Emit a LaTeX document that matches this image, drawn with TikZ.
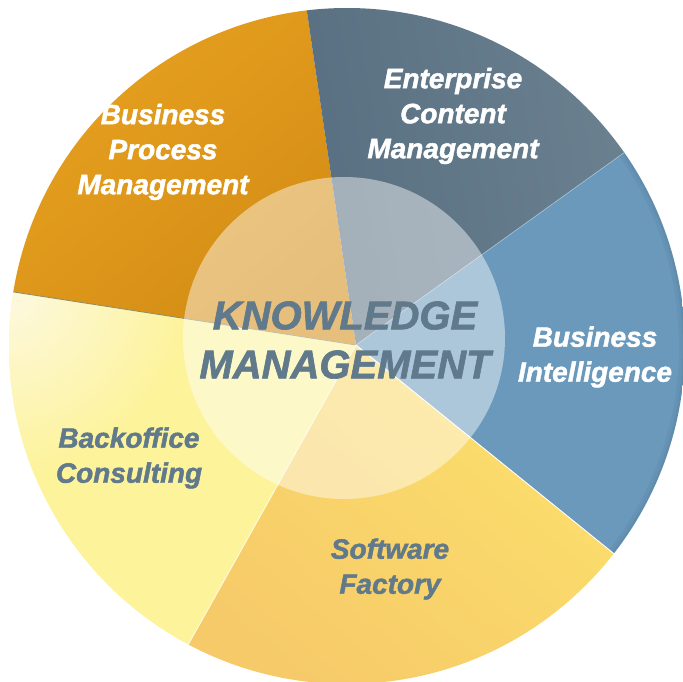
\documentclass[tikz,border=0pt]{standalone}
\usepackage{fontspec}
\setmainfont{Liberation Sans}[BoldItalicFeatures={FakeBold=1.6}]
\usetikzlibrary{calc}
\definecolor{bpmorange}{RGB}{233,163,33}
\definecolor{bpmorangedk}{RGB}{211,140,20}
\definecolor{ecmslate}{RGB}{88,111,129}
\definecolor{ecmslatelt}{RGB}{108,130,145}
\definecolor{biblue}{RGB}{106,153,188}
\definecolor{swyellow}{RGB}{246,201,105}
\definecolor{swyellowlt}{RGB}{252,225,108}
\definecolor{boyellow}{RGB}{253,243,155}
\definecolor{boyellowlt}{RGB}{253,249,228}
\definecolor{kmgray}{RGB}{96,121,139}
\tikzset{
  seglabel/.style={align=center, inner sep=0pt, text=white, font=\fontsize{28}{35}\selectfont\bfseries\itshape},
  seglabeldark/.style={seglabel, text=kmgray},
  kmlabel/.style={seglabel, text=kmgray, font=\fontsize{40}{49}\selectfont\bfseries\itshape},
  seam/.style={line width=0.9pt},
}

\begin{document}
\begin{tikzpicture}[x=1pt, y=-1pt]
  \useasboundingbox (0,0) rectangle (683,682);
  \coordinate (apex) at (356,345);
  \coordinate (hub) at (347,346);
  \coordinate (ring) at (344,338);
  % where the slices meet the rim
  \coordinate (p1) at (307,12);  \coordinate (p2) at (625,152);
  \coordinate (p3) at (618,557); \coordinate (p4) at (188,645);
  \coordinate (p5) at (14,292);
  \foreach \i in {1,...,5} { \coordinate (e\i) at ($(apex)!1.1!(p\i)$); }

  \begin{scope}
    \clip (hub) circle (338pt);
    % Business Process Management
    \begin{scope}
      \clip (apex) -- (e5) -- (-20,-21) -- (e1) -- cycle;
      \shade[top color=bpmorange, bottom color=bpmorangedk, shading angle=40] (-20,-21) rectangle (360,350);
    \end{scope}
    % Enterprise Content Management
    \begin{scope}
      \clip (apex) -- (e1) -- (652,-21) -- (e2) -- cycle;
      \shade[left color=ecmslate, right color=ecmslatelt, shading angle=100] (300,-21) rectangle (655,350);
    \end{scope}
    % Business Intelligence
    \begin{scope}
      \clip (apex) -- (e2) -- (700,133) -- (700,578) -- (e3) -- cycle;
      \fill[biblue] (340,120) rectangle (700,600);
      \draw[biblue!70!black, opacity=0.12, line width=12pt] (hub) circle (338pt);
      \draw[biblue!70!black, opacity=0.15, line width=5pt] (hub) circle (338pt);
    \end{scope}
    % Software Factory
    \begin{scope}
      \clip (apex) -- (e3) -- (644,700) -- (171,700) -- (e4) -- cycle;
      \shade[top color=swyellowlt, bottom color=swyellow, shading angle=-40] (170,340) rectangle (650,700);
    \end{scope}
    % Backoffice Consulting
    \begin{scope}
      \clip (apex) -- (e4) -- (-20,675) -- (e5) -- cycle;
      \fill[boyellow] (-20,280) rectangle (360,680);
      \shade[inner color=boyellowlt, outer color=boyellow] (0,285) circle (190pt);
    \end{scope}
    \draw[seam, gray!70!olive] (apex) -- (e5);
    \draw[seam, white] (apex) -- (e3);
    \draw[seam, white!70!boyellow] (apex) -- (e4);
    \draw[seam, biblue!60!white, line width=0.6pt] (apex) -- (e2);
  \end{scope}

  \fill[white, opacity=0.45] (ring) circle (161pt);

  \node[seglabel] (bpm) at (163,152) {Business\\Process\\Management};
  \node[seglabel] (ecm) at (453,116) {Enterprise\\Content\\Management};
  \node[seglabel] (bi) at (595,357) {Business\\Intelligence};
  \node[seglabeldark] (sw) at (390,569) {Software\\Factory};
  \node[seglabeldark] (bo) at (129,458) {Backoffice\\Consulting};
  \node[kmlabel] (km) at (345,340) {KNOWLEDGE\\MANAGEMENT};
\end{tikzpicture}
\end{document}
